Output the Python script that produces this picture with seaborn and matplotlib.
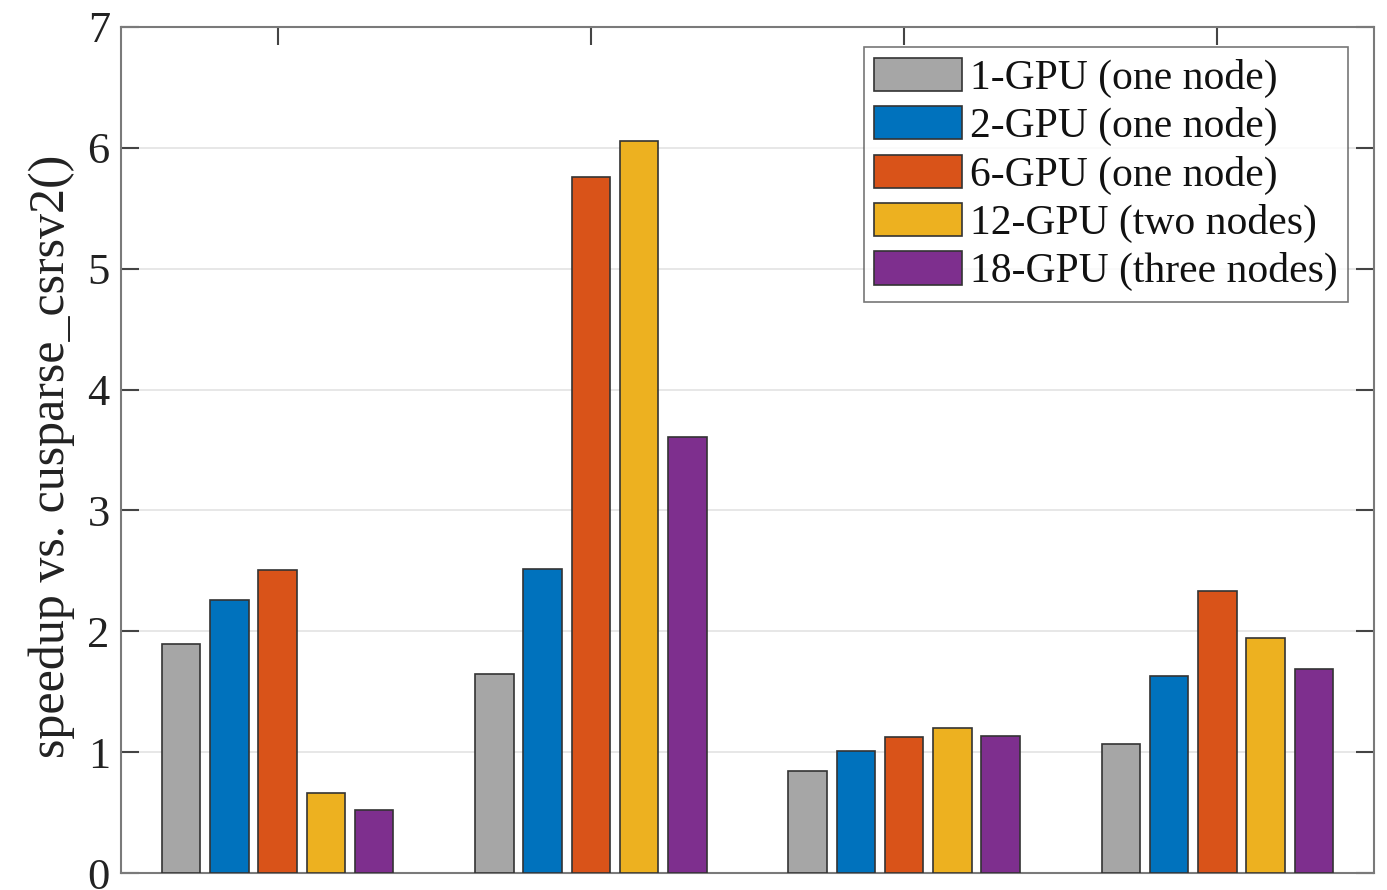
import matplotlib
matplotlib.use("Agg")
import matplotlib.pyplot as plt
import seaborn as sns
import pandas as pd

groups = ["A", "B", "C", "D"]
series = ["1-GPU (one node)", "2-GPU (one node)", "6-GPU (one node)",
          "12-GPU (two nodes)", "18-GPU (three nodes)"]
v1 = [1.895, 1.646, 0.844, 1.067]
v2 = [2.26, 2.515, 1.01, 1.63]
v6 = [2.507, 5.76, 1.125, 2.333]
v12 = [0.66, 6.06, 1.20, 1.944]
v18 = [0.52, 3.61, 1.13, 1.688]
colors = ["#A6A6A6", "#0072BD", "#D95319", "#EDB120", "#7E2F8E"]

rows = []
for s, vals in zip(series, [v1, v2, v6, v12, v18]):
    for g, v in zip(groups, vals):
        rows.append({"group": g, "series": s, "value": v})
df = pd.DataFrame(rows)

sns.set_theme(style="white")
plt.rcParams["font.family"] = ["Liberation Serif", "DejaVu Serif"]

fig = plt.figure(figsize=(13.87, 8.90), dpi=100)
ax = fig.add_axes([0.0872, 0.0191, 0.9034, 0.9506])

sns.barplot(data=df, x="group", y="value", hue="series", palette=colors,
            width=0.77, gap=0.2, edgecolor="#333333", linewidth=1.2,
            saturation=1, ax=ax, errorbar=None, zorder=3)

ax.set_xlim(-0.5, 3.5)
ax.set_ylim(0, 7)
ax.set_yticks(range(0, 8))
ax.set_xticks(range(4))
ax.set_xticklabels([])
ax.set_xlabel("")
ax.set_ylabel("speedup vs. cusparse_csrsv2()", fontsize=36, color="#222222", labelpad=0)
ax.yaxis.set_label_coords(-0.037, 0.492)
ax.yaxis.grid(True, color="#e3e3e3", linewidth=1.2, zorder=0)
ax.set_axisbelow(True)
ax.tick_params(axis="y", direction="in", length=13, width=1.5, color="#444444",
               labelsize=32, labelcolor="#222222", right=True, left=True, pad=8)
ax.tick_params(axis="x", direction="in", length=13, width=1.5, color="#444444",
               bottom=True, top=True)
for sp in ax.spines.values():
    sp.set_color("#7a7a7a")
    sp.set_linewidth(1.5)

leg = ax.legend(loc="upper right", bbox_to_anchor=(0.9794, 0.976),
                fontsize=30, frameon=True, fancybox=False,
                edgecolor="#555555", handlelength=2.1, handleheight=0.85,
                handletextpad=0.2, labelspacing=0.2, borderpad=0.25,
                borderaxespad=0.0)
leg.get_frame().set_linewidth(1.2)
for t in leg.get_texts():
    t.set_color("#111111")

fig.savefig("out.png", dpi=100)
